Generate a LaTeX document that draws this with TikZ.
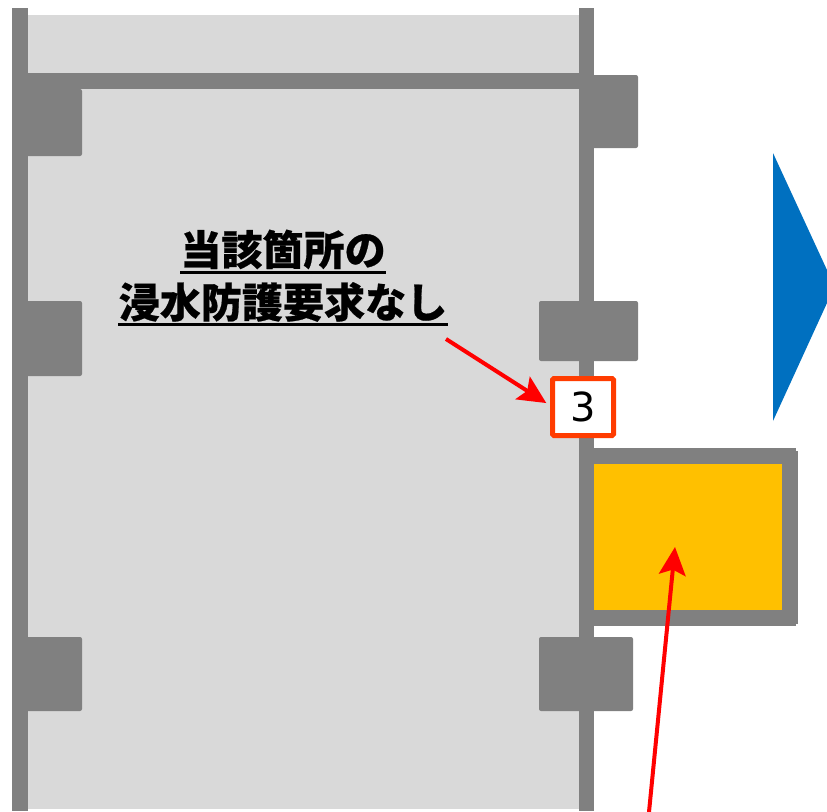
\documentclass[tikz,border=0pt]{standalone}
\usepackage{fontspec}
\newfontfamily\jpfont{Noto Sans CJK JP}[BoldFeatures={FakeBold=0.5}]
\newfontfamily\numfont{DejaVu Sans}
\usetikzlibrary{arrows.meta}
\definecolor{wallgrey}{HTML}{808080}
\definecolor{roomgrey}{HTML}{D9D9D9}
\definecolor{tankyellow}{HTML}{FFC000}
\definecolor{flowblue}{HTML}{0070C0}
\definecolor{tagred}{HTML}{FF3C00}
\tikzset{
  wall/.style={fill=wallgrey},
  column/.style={fill=wallgrey, rounded corners=1.5pt},
  note/.style={inner sep=0pt, font=\jpfont\bfseries\fontsize{30.8pt}{30.8pt}\selectfont, text height=24pt, text depth=5pt},
  noteline/.style={draw=black, line width=2.2pt},
  callout/.style={-{Stealth[length=21pt, width=20pt, inset=4pt]}, draw=red, line width=3pt},
}
\begin{document}
\begin{tikzpicture}[x=0.75pt, y=-0.75pt]
\useasboundingbox (0,0) rectangle (827,811);
\fill[roomgrey] (28,15) rectangle (579,809);
\fill[wall] (12,8) rectangle (28,811);
\fill[wall] (579,8) rectangle (594,811);
\fill[wall] (28,73) rectangle (579,89);
\fill[column] (20,89) rectangle (82,156);
\fill[column] (20,301) rectangle (82,376);
\fill[column] (20,637) rectangle (82,711);
\fill[column] (585,75) rectangle (638,148);
\fill[column] (539,301) rectangle (638,361);
\fill[column] (539,637) rectangle (633,711);
\fill[flowblue] (773,153) -- (827,270) -- (827,303) -- (773,421) -- cycle;
\fill[tankyellow] (594,464) rectangle (782,610);
\fill[wall] (594,448) rectangle (796,464);
\fill[wall] (782,451) rectangle (798,624);
\fill[wall] (594,610) rectangle (796,626);
\node[note] (line1) at (283,252.5) {当該箇所の};
\node[note] (line2) at (283,305) {浸水防護要求なし};
\draw[noteline] (line1.south west) -- (line1.south east);
\draw[noteline] (line2.south west) -- (line2.south east);
\node[draw=tagred, fill=white, line width=3.75pt, rounded corners=1pt, minimum width=45.75pt, minimum height=42.75pt, inner sep=0pt, outer sep=0pt, font=\numfont\fontsize{30pt}{30pt}\selectfont] (tag) at (583,407) {3};
\coordinate (notefoot) at (446,339);
\coordinate (tankpoint) at (675,547);
\coordinate (tankfoot) at (649,812);
\draw[callout, shorten >=5.5pt] (notefoot) -- (tag.west);
\draw[callout] (tankfoot) -- (tankpoint);
\end{tikzpicture}
\end{document}
